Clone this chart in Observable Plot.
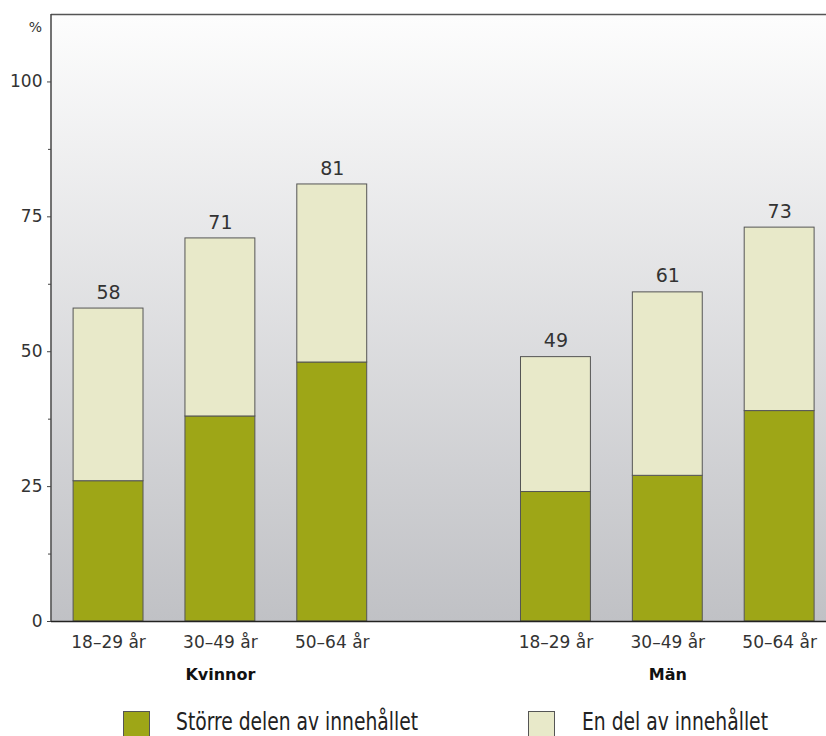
<!DOCTYPE html>
<html><head><meta charset="utf-8">
<script src="https://cdn.jsdelivr.net/npm/d3@7"></script>
<script src="https://cdn.jsdelivr.net/npm/@observablehq/plot@0.6"></script>
<style>
html,body{margin:0;padding:0;background:#fff;overflow:hidden;width:826px;height:736px;}
#chart svg{display:block;}
#legend{position:relative;height:36px;overflow:hidden;font-family:"Liberation Sans Narrow","DejaVu Sans Condensed","Liberation Sans",sans-serif;color:#222;}
.sw{position:absolute;top:11px;width:27px;height:27px;border:1px solid #555;box-sizing:border-box;}
.lt{position:absolute;top:9px;font-size:24px;line-height:26px;white-space:nowrap;transform-origin:0 50%;}
</style>
</head><body>
<div id="chart"></div>
<div id="legend"></div>
<script>
const groups = ["Kvinnor", "Män"];
const ageGroups = ["18–29 år", "30–49 år", "50–64 år"];
const series = ["Större delen av innehållet", "En del av innehållet"];
const kvinnorStorre = [26, 38, 48];
const kvinnorTotal = [58, 71, 81];
const manStorre = [24, 27, 39];
const manTotal = [49, 61, 73];
const yTicks = [0, 25, 50, 75, 100];
const yMinorTicks = [12.5, 37.5, 62.5, 87.5];
const colors = ["#9ea617", "#e8e9c9"];

const storreBy = {"Kvinnor": kvinnorStorre, "Män": manStorre};
const totalBy = {"Kvinnor": kvinnorTotal, "Män": manTotal};
const key = (g, a) => g + "|" + a;
const realKeys = groups.flatMap(g => ageGroups.map(a => key(g, a)));
const domain = [...ageGroups.map(a => key(groups[0], a)), "gap", ...ageGroups.map(a => key(groups[1], a))];

const bars = [];
const totals = [];
for (const g of groups) {
  ageGroups.forEach((a, i) => {
    const s = storreBy[g][i], t = totalBy[g][i];
    bars.push({key: key(g, a), series: series[0], value: s});
    bars.push({key: key(g, a), series: series[1], value: t - s});
    totals.push({key: key(g, a), total: t});
  });
}
const groupLabels = groups.map(g => ({key: key(g, ageGroups[1]), label: g}));

const chart = Plot.plot({
  width: 826,
  height: 700,
  marginLeft: 51,
  marginRight: 0,
  marginTop: 14,
  marginBottom: 79,
  style: {fontFamily: "DejaVu Sans", fontSize: "17px", color: "#333", background: "transparent"},
  x: {type: "band", domain, paddingInner: 0.375, paddingOuter: 0.152, align: 0.65, round: false},
  y: {domain: [0, 112.5]},
  color: {domain: series, range: colors},
  marks: [
    Plot.frame({fill: "url(#bggrad)", stroke: null}),
    Plot.ruleY([112.5], {stroke: "#555", strokeWidth: 1.5}),
    Plot.barY(bars, {x: "key", y: "value", fill: "series", stroke: "#555", strokeWidth: 1}),
    Plot.ruleY([0], {stroke: "#222", strokeWidth: 1.5}),
    Plot.axisY(yTicks, {tickSize: 4, tickPadding: 5, stroke: "#444", fontSize: 17, label: null}),
    Plot.axisY(yMinorTicks, {tickSize: 3, stroke: "#444", tickFormat: () => "", label: null}),
    Plot.axisX(realKeys, {tickSize: 0, tickPadding: 14, fontSize: 17, tickFormat: d => d.split("|")[1], label: null}),
    Plot.text(groupLabels, {x: "key", y: 0, text: "label", dy: 53, fontWeight: "bold", fontSize: 16, fill: "#111"}),
    Plot.text(totals, {x: "key", y: "total", text: d => String(d.total), dy: -16, fontSize: 19, fill: "#333"}),
    Plot.text(["%"], {frameAnchor: "top-left", textAnchor: "middle", lineAnchor: "middle", dx: -16, dy: 13, fontSize: 14, fill: "#333"})
  ]
});

// gradient background + left axis line
const svg = d3.select(chart);
const defs = svg.insert("defs", ":first-child");
const grad = defs.append("linearGradient").attr("id", "bggrad").attr("x1", 0).attr("y1", 0).attr("x2", 0).attr("y2", 1);
grad.append("stop").attr("offset", "0%").attr("stop-color", "#fdfdfd");
grad.append("stop").attr("offset", "100%").attr("stop-color", "#c0c1c5");
const yr = chart.scale("y").range;
svg.append("line").attr("x1", 51).attr("x2", 51).attr("y1", yr[1]).attr("y2", yr[0])
  .attr("stroke", "#444").attr("stroke-width", 1.5);

document.getElementById("chart").appendChild(chart);

const legend = document.getElementById("legend");
const legendPos = [[123, 176], [528, 582]];
const legendWidths = [242, 186];
series.forEach((s, i) => {
  const sw = document.createElement("div");
  sw.className = "sw"; sw.style.left = legendPos[i][0] + "px"; sw.style.background = colors[i];
  const t = document.createElement("div");
  t.className = "lt"; t.style.left = legendPos[i][1] + "px"; t.textContent = s;
  legend.appendChild(sw); legend.appendChild(t);
  const w = t.getBoundingClientRect().width;
  if (w > 0) t.style.transform = "scaleX(" + (legendWidths[i] / w) + ")";
});
</script>
</body></html>
